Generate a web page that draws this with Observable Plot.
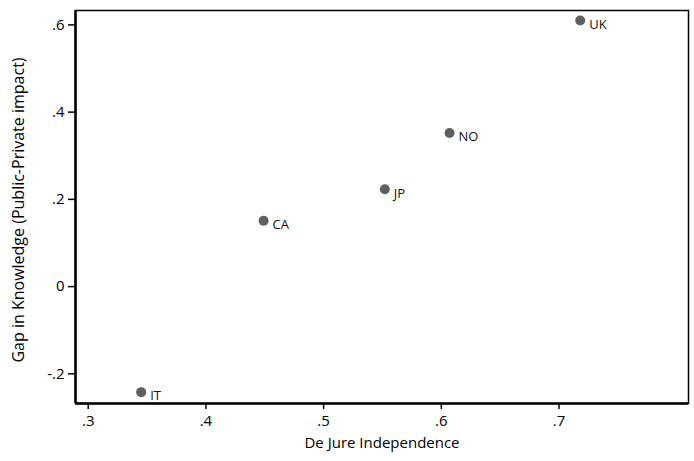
<!DOCTYPE html>
<html>
<head>
<meta charset="utf-8">
<script src="https://cdn.jsdelivr.net/npm/d3@7"></script>
<script src="https://cdn.jsdelivr.net/npm/@observablehq/plot@0.6"></script>
<style>
  html, body { margin: 0; padding: 0; background: #fff; }
  #chart svg { display: block; }
</style>
</head>
<body>
<div id="chart"></div>
<script>
const countries = ["IT", "CA", "JP", "NO", "UK"];
const deJure = [0.345, 0.449, 0.552, 0.607, 0.718];
const gap = [-0.242, 0.151, 0.223, 0.352, 0.610];
const xTicks = [0.3, 0.4, 0.5, 0.6, 0.7];
const yTicks = [-0.2, 0, 0.2, 0.4, 0.6];

const data = countries.map((c, i) => ({country: c, x: deJure[i], y: gap[i]}));
const fmt = d => d === 0 ? "0" : String(+d.toFixed(1)).replace("0.", ".");
const font = "'Open Sans', 'DejaVu Sans', sans-serif";

const chart = Plot.plot({
  width: 694,
  height: 461,
  marginLeft: 75,
  marginRight: 6,
  marginTop: 10,
  marginBottom: 58,
  style: {fontFamily: font, color: "#000", background: "#fff"},
  x: {domain: [0.2892, 0.81]},
  y: {domain: [-0.268, 0.633]},
  marks: [
    Plot.frame({stroke: "#000", strokeWidth: 1.5}),
    Plot.axisX({ticks: xTicks, tickFormat: fmt, tickSize: 6, tickPadding: 6, fontSize: 15, label: null, stroke: "#000", strokeWidth: 1.5}),
    Plot.axisY({ticks: yTicks, tickFormat: fmt, tickSize: 7, tickPadding: 4, fontSize: 15, label: null, stroke: "#000", strokeWidth: 1.5}),
    Plot.ruleX([0.2892], {stroke: "#000", strokeWidth: 2.5}),
    Plot.ruleY([-0.268], {stroke: "#000", strokeWidth: 2.5}),
    Plot.dot(data, {x: "x", y: "y", r: 5, fill: "#5f5f5f", stroke: "none"}),
    Plot.text(data, {x: "x", y: "y", text: "country", dx: 9, dy: 4, textAnchor: "start", fontSize: 13, fill: "#111"}),
    Plot.text(["De Jure Independence"], {frameAnchor: "bottom", dy: 44, fontSize: 15, fill: "#000"}),
    Plot.text(["Gap in Knowledge (Public-Private impact)"], {frameAnchor: "left", textAnchor: "middle", dx: -57, dy: 3, rotate: -90, fontSize: 16, fill: "#000"})
  ]
});
document.getElementById("chart").appendChild(chart);
</script>
</body>
</html>
